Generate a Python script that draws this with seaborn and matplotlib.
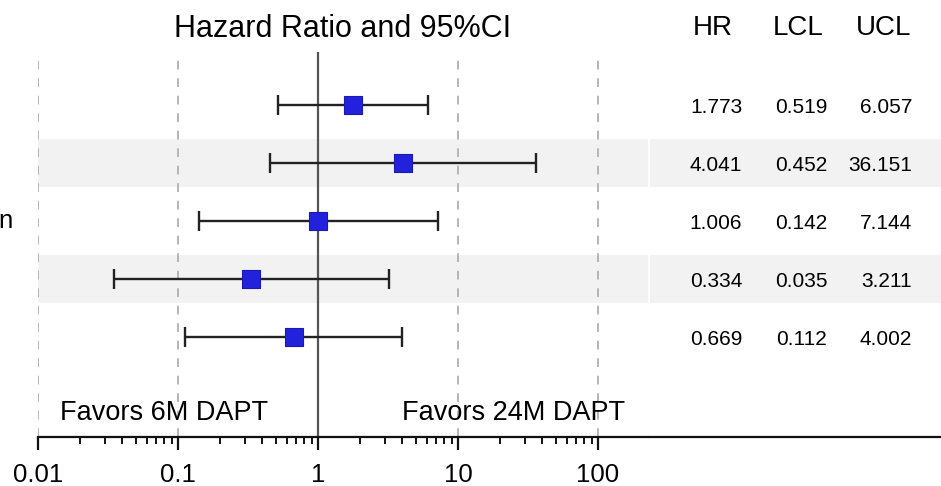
import matplotlib
matplotlib.use('Agg')
import matplotlib.pyplot as plt
import numpy as np
import pandas as pd
import seaborn as sns

# values
rows = [1, 2, 3, 4, 5]
hr = [1.773, 4.041, 1.006, 0.334, 0.669]
lcl = [0.519, 0.452, 0.142, 0.035, 0.112]
ucl = [6.057, 36.151, 7.144, 3.211, 4.002]
shaded_rows = [2, 4]
xtick_values = [0.01, 0.1, 1, 10, 100]
xtick_labels = ['0.01', '0.1', '1', '10', '100']
table_headers = ['HR', 'LCL', 'UCL']

df = pd.DataFrame({'row': rows, 'HR': hr, 'LCL': lcl, 'UCL': ucl})

sns.set_style('white')
plt.rcParams['font.family'] = ['Liberation Sans', 'DejaVu Sans']
plt.rcParams['text.color'] = 'black'
plt.rcParams['xtick.color'] = '#111111'
plt.rcParams['xtick.labelcolor'] = 'black'

W, H = 941, 486
fig = plt.figure(figsize=(W / 100, H / 100), dpi=100)
bottom = 1 - 437 / H
height = 385 / H
ax = fig.add_axes([38 / W, bottom, 610 / W, height])
tab = fig.add_axes([650 / W, bottom, 291 / W, height])

ylims = (6.724, 0.086)

# main forest plot
ax.set_xscale('log')
ax.set_xlim(0.01, 10 ** (-2 + 610 / 140))
ax.set_ylim(*ylims)
for r in shaded_rows:
    ax.axhspan(r - 0.41, r + 0.41, color='#f2f2f2', lw=0, zorder=0)
for g in [0.01, 0.1, 10, 100]:
    ax.axvline(g, color='#b5b5b5', lw=1.4, dashes=(4.5, 4.5), zorder=1)
ax.axvline(1, color='#555555', lw=1.6, zorder=2)

xerr = [df['HR'] - df['LCL'], df['UCL'] - df['HR']]
ax.errorbar(df['HR'], df['row'], xerr=xerr, fmt='none', ecolor='#222222',
            elinewidth=1.7, capsize=7, capthick=1.7, zorder=3)
sns.scatterplot(data=df, x='HR', y='row', marker='s', s=150, color='#2222dd',
                edgecolor='#1a1ab0', linewidth=0.8, ax=ax, zorder=4)

ax.set_xticks(xtick_values)
ax.set_xticklabels(xtick_labels)
minor = [m * d for d in [0.01, 0.1, 1, 10] for m in range(2, 10)]
ax.set_xticks(minor, minor=True)
ax.set_xticklabels([], minor=True)
ax.set_yticks([])
ax.set_xlabel('')
ax.set_ylabel('')
for s in ['top', 'left', 'right']:
    ax.spines[s].set_visible(False)
ax.spines['bottom'].set_linewidth(1.6)
ax.spines['bottom'].set_color('#111111')
ax.tick_params(axis='x', which='major', direction='out', length=9, width=1.6,
               labelsize=18.5, pad=9.5, bottom=True)
ax.tick_params(axis='x', which='minor', direction='out', length=5, width=1.4,
               bottom=True)
ax.set_title('Hazard Ratio and 95%CI', fontsize=22, pad=11)

ax.text(10 ** -1.1, 6.431, 'Favors 6M DAPT', fontsize=19.5, ha='center', va='baseline')
ax.text(10 ** 1.396, 6.431, 'Favors 24M DAPT', fontsize=19.5, ha='center', va='baseline')

# cropped row label at far left
fig.text(13 / W, 1 - 228 / H, 'n', fontsize=18.5, ha='right', va='baseline')

# table on the right
tab.set_xlim(0, 1)
tab.set_ylim(*ylims)
for r in shaded_rows:
    tab.axhspan(r - 0.41, r + 0.41, color='#f2f2f2', lw=0, zorder=0)
header_x = [0.216, 0.509, 0.801]
for hx, name in zip(header_x, table_headers):
    tab.text(hx, -0.207, name, fontsize=20, ha='center', va='baseline')
for _, rec in df.iterrows():
    y = rec['row'] + 0.138
    tab.text(0.227, y, f"{rec['HR']:.3f}", fontsize=15, ha='center', va='baseline')
    tab.text(0.519, y, f"{rec['LCL']:.3f}", fontsize=15, ha='center', va='baseline')
    tab.text(0.900, y, f"{rec['UCL']:.3f}", fontsize=15, ha='right', va='baseline')
tab.set_xticks([])
tab.set_yticks([])
for s in ['top', 'left', 'right']:
    tab.spines[s].set_visible(False)
tab.spines['bottom'].set_linewidth(1.6)
tab.spines['bottom'].set_color('#111111')

fig.savefig('out.png', dpi=100)
